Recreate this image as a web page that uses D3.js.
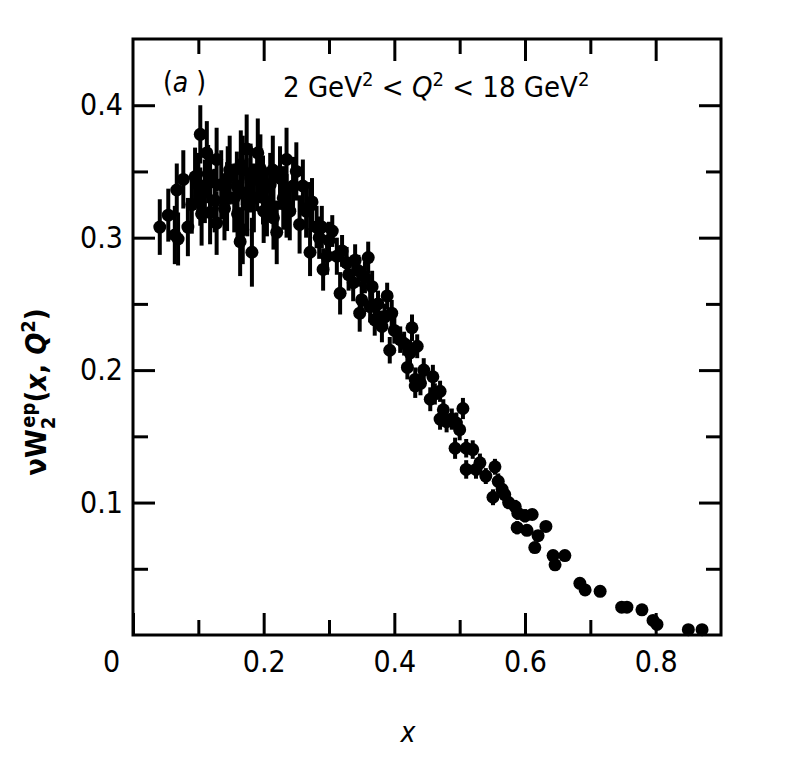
<!DOCTYPE html>
<html>
<head>
<meta charset="utf-8">
<script src="https://cdn.jsdelivr.net/npm/d3@7"></script>
<style>
  body { margin: 0; background: #fff; }
  text { font-family: "DejaVu Sans Condensed", "DejaVu Sans", sans-serif; fill: #000; }
</style>
</head>
<body>
<script>
"use strict";

// measured points: x, nu W2, error on nu W2
var xValues = [0.041, 0.054, 0.064, 0.069, 0.067, 0.077, 0.084, 0.090, 0.095, 0.100,
    0.103, 0.103, 0.105, 0.110, 0.113, 0.115, 0.118, 0.118, 0.125, 0.128,
    0.128, 0.135, 0.140, 0.144, 0.145, 0.148, 0.155, 0.159, 0.160, 0.164,
    0.165, 0.168, 0.168, 0.174, 0.174, 0.175, 0.180, 0.182, 0.185, 0.190,
    0.191, 0.195, 0.199, 0.200, 0.205, 0.210, 0.214, 0.215, 0.220, 0.225,
    0.230, 0.235, 0.235, 0.240, 0.245, 0.250, 0.255, 0.260, 0.265, 0.271,
    0.271, 0.274, 0.281, 0.285, 0.289, 0.291, 0.297, 0.300,
    0.305, 0.312, 0.317, 0.320, 0.327, 0.330, 0.337, 0.340, 0.345, 0.347,
    0.350, 0.355, 0.360, 0.363, 0.366, 0.370, 0.375, 0.381, 0.385, 0.389,
    0.396, 0.393, 0.400, 0.409, 0.415, 0.420, 0.424, 0.427, 0.432, 0.432,
    0.435, 0.440, 0.445, 0.455, 0.459, 0.462, 0.470, 0.470, 0.475, 0.480,
    0.488, 0.493, 0.495, 0.500, 0.505, 0.510, 0.510, 0.520, 0.525, 0.531,
    0.540, 0.551, 0.554, 0.559, 0.565, 0.569, 0.575, 0.585, 0.589, 0.611,
    0.588, 0.600, 0.603, 0.620, 0.632, 0.615, 0.643, 0.646, 0.661, 0.684,
    0.692, 0.715, 0.748, 0.756, 0.779, 0.796, 0.802, 0.850, 0.871];
var yValues = [0.308, 0.317, 0.302, 0.299, 0.336, 0.344, 0.308, 0.325, 0.346, 0.340,
    0.378, 0.331, 0.318, 0.335, 0.364, 0.348, 0.342, 0.319, 0.328, 0.359,
    0.311, 0.340, 0.322, 0.331, 0.345, 0.351, 0.330, 0.339, 0.318, 0.297,
    0.355, 0.351, 0.306, 0.367, 0.334, 0.325, 0.345, 0.289, 0.330, 0.344,
    0.364, 0.352, 0.336, 0.320, 0.327, 0.340, 0.351, 0.315, 0.304, 0.345,
    0.330, 0.359, 0.324, 0.320, 0.339, 0.350, 0.310, 0.339, 0.320, 0.324,
    0.289, 0.327, 0.308, 0.300, 0.308, 0.276, 0.286, 0.298,
    0.305, 0.286, 0.258, 0.290, 0.281, 0.272, 0.266, 0.283, 0.275, 0.243,
    0.253, 0.270, 0.285, 0.248, 0.263, 0.238, 0.250, 0.233, 0.240, 0.256,
    0.243, 0.215, 0.230, 0.223, 0.220, 0.202, 0.213, 0.232, 0.193, 0.188,
    0.218, 0.190, 0.200, 0.178, 0.195, 0.182, 0.184, 0.163, 0.170, 0.161,
    0.163, 0.141, 0.160, 0.155, 0.171, 0.141, 0.125, 0.140, 0.125, 0.130,
    0.120, 0.104, 0.127, 0.116, 0.110, 0.106, 0.100, 0.097, 0.092, 0.091,
    0.081, 0.090, 0.079, 0.075, 0.082, 0.066, 0.060, 0.053, 0.060, 0.039,
    0.034, 0.033, 0.021, 0.021, 0.019, 0.011, 0.008, 0.004, 0.004];
var yErrors = [0.021, 0.020, 0.022, 0.020, 0.020, 0.022, 0.022, 0.022, 0.022, 0.024,
    0.022, 0.022, 0.024, 0.024, 0.024, 0.022, 0.024, 0.024, 0.024, 0.024,
    0.024, 0.026, 0.024, 0.026, 0.024, 0.026, 0.026, 0.026, 0.024, 0.026,
    0.026, 0.026, 0.026, 0.026, 0.026, 0.024, 0.026, 0.026, 0.026, 0.024,
    0.026, 0.026, 0.026, 0.024, 0.026, 0.024, 0.026, 0.024, 0.024, 0.024,
    0.024, 0.024, 0.024, 0.022, 0.022, 0.022, 0.022, 0.020, 0.020, 0.018,
    0.018, 0.018, 0.016, 0.016, 0.016, 0.016, 0.014, 0.014,
    0.012, 0.014, 0.016, 0.012, 0.012, 0.012, 0.014, 0.012, 0.012, 0.014,
    0.014, 0.012, 0.012, 0.012, 0.012, 0.012, 0.010, 0.012, 0.010, 0.010,
    0.010, 0.010, 0.010, 0.010, 0.009, 0.009, 0.010, 0.010, 0.009, 0.009,
    0.009, 0.009, 0.009, 0.009, 0.009, 0.008, 0.008, 0.008, 0.008, 0.008,
    0.008, 0.008, 0.008, 0.008, 0.008, 0.007, 0.007, 0.007, 0.007, 0.007,
    0.006, 0.006, 0.006, 0.006, 0.006, 0.006, 0.005, 0.005, 0.005, 0.004,
    0.005, 0.005, 0.004, 0.004, 0.004, 0.004, 0.004, 0.004, 0.004, 0.003,
    0.003, 0.003, 0.003, 0.003, 0.003, 0.003, 0.003, 0.002, 0.002];

var xMajorTicks = [0, 0.2, 0.4, 0.6, 0.8];
var xMinorTicks = [0.1, 0.3, 0.5, 0.7];
var yMajorTicks = [0.1, 0.2, 0.3, 0.4];
var yMinorTicks = [0.05, 0.15, 0.25, 0.35];

(function() {
    var width = 812,
        height = 768,
        marginLeft = 133,
        marginTop = 39,
        plotW = 588,
        plotH = 596,
        majorLen = 22,
        minorLen = 15;

    var xScale = d3.scaleLinear().domain([0, 0.9]).range([0, plotW]);
    var yScale = d3.scaleLinear().domain([0, 0.45]).range([plotH, 0]);

    var svg = d3.select("body").append("svg")
        .attr("width", width)
        .attr("height", height);

    var g = svg.append("g")
        .attr("transform", "translate(" + marginLeft + "," + marginTop + ")");

    function fmt(d) {
        return d === 0 ? "0" : d3.format(".1f")(d);
    }

    function addAxis(axis, tx, ty, labels) {
        var a = g.append("g")
            .attr("transform", "translate(" + tx + "," + ty + ")")
            .call(axis);
        a.attr("font-family", null).attr("font-size", null);
        a.select(".domain").remove();
        a.selectAll(".tick line").attr("stroke", "#000").attr("stroke-width", 3);
        if (!labels) {
            a.selectAll(".tick text").remove();
        } else {
            a.selectAll(".tick text")
                .attr("fill", "#000")
                .style("font-size", "30px");
        }
        return a;
    }

    // bottom
    var xb = addAxis(d3.axisBottom(xScale).tickValues(xMajorTicks).tickSize(-majorLen)
        .tickPadding(16).tickFormat(fmt), 0, plotH, true);
    xb.selectAll(".tick text").filter(function(d) { return d === 0; }).attr("dx", -22);
    addAxis(d3.axisBottom(xScale).tickValues(xMinorTicks).tickSize(-minorLen), 0, plotH, false);
    // top
    addAxis(d3.axisTop(xScale).tickValues(xMajorTicks.slice(1)).tickSize(-majorLen), 0, 0, false);
    addAxis(d3.axisTop(xScale).tickValues(xMinorTicks).tickSize(-minorLen), 0, 0, false);
    // left
    addAxis(d3.axisLeft(yScale).tickValues(yMajorTicks).tickSize(-majorLen)
        .tickPadding(10).tickFormat(fmt), 0, 0, true);
    addAxis(d3.axisLeft(yScale).tickValues(yMinorTicks).tickSize(-minorLen), 0, 0, false);
    // right
    addAxis(d3.axisRight(yScale).tickValues(yMajorTicks).tickSize(-majorLen), plotW, 0, false);
    addAxis(d3.axisRight(yScale).tickValues(yMinorTicks).tickSize(-minorLen), plotW, 0, false);

    g.append("rect")
        .attr("width", plotW)
        .attr("height", plotH)
        .attr("fill", "none")
        .attr("stroke", "#000")
        .attr("stroke-width", 3);

    var pts = d3.range(xValues.length);

    g.selectAll("line.err")
        .data(pts)
        .enter().append("line")
            .classed("err", true)
            .attr("x1", function(i) { return xScale(xValues[i]); })
            .attr("x2", function(i) { return xScale(xValues[i]); })
            .attr("y1", function(i) { return yScale(yValues[i] + yErrors[i]); })
            .attr("y2", function(i) { return yScale(Math.max(0, yValues[i] - yErrors[i])); })
            .attr("stroke", "#000")
            .attr("stroke-width", 4);

    g.selectAll("circle")
        .data(pts)
        .enter().append("circle")
            .attr("cx", function(i) { return xScale(xValues[i]); })
            .attr("cy", function(i) { return yScale(yValues[i]); })
            .attr("r", 6.5)
            .attr("fill", "#000");

    // panel label and Q2 range
    var pa = svg.append("text")
        .attr("x", 163).attr("y", 92)
        .style("font-size", "28px");
    pa.append("tspan").text("(");
    pa.append("tspan").style("font-style", "italic").text("a");
    pa.append("tspan").text(" )");

    var t = svg.append("text")
        .attr("x", 283).attr("y", 97)
        .style("font-size", "29px");
    t.append("tspan").text("2 GeV");
    t.append("tspan").attr("dy", -11).style("font-size", "20px").text("2");
    t.append("tspan").attr("dy", 11).text(" < ");
    t.append("tspan").style("font-style", "italic").text("Q");
    t.append("tspan").attr("dy", -11).style("font-size", "20px").text("2");
    t.append("tspan").attr("dy", 11).text(" < 18 GeV");
    t.append("tspan").attr("dy", -11).style("font-size", "20px").text("2");

    // axis titles
    svg.append("text")
        .attr("x", 408).attr("y", 742)
        .attr("text-anchor", "middle")
        .style("font-size", "28px")
        .style("font-style", "italic")
        .text("x");

    var yt = svg.append("text")
        .attr("transform", "translate(46,392) rotate(-90)")
        .attr("text-anchor", "middle")
        .style("font-size", "29px")
        .style("font-weight", "bold");
    yt.append("tspan").text("\u03bdW");
    yt.append("tspan").attr("dy", 9).style("font-size", "20px").text("2");
    yt.append("tspan").attr("dy", -20).attr("dx", -11).style("font-size", "20px").text("ep");
    yt.append("tspan").attr("dy", 11).text("(");
    yt.append("tspan").style("font-style", "italic").text("x");
    yt.append("tspan").text(", ");
    yt.append("tspan").style("font-style", "italic").text("Q");
    yt.append("tspan").attr("dy", -11).style("font-size", "20px").text("2");
    yt.append("tspan").attr("dy", 11).text(")");
})();
</script>
</body>
</html>
